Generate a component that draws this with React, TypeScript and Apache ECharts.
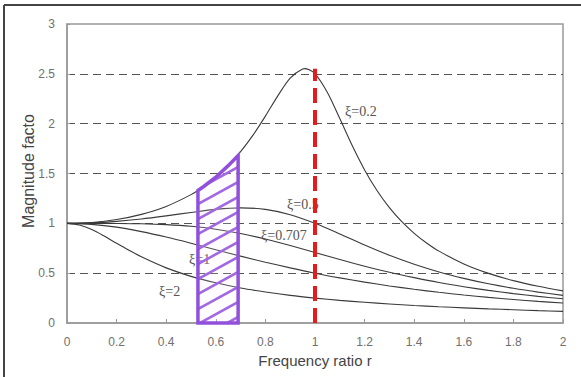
import React, { useEffect, useRef } from "react";
import * as echarts from "echarts";

// Frequency ratio grid shared by most curves
const rValues = [0, 0.1, 0.2, 0.3, 0.4, 0.5, 0.6, 0.7, 0.8, 0.9, 1.0, 1.1, 1.2, 1.3, 1.4, 1.5, 1.6, 1.7, 1.8, 1.9, 2.0];

// ξ = 0.2 curve (finer sampling around resonance)
const xi02R = [0, 0.1, 0.2, 0.3, 0.4, 0.5, 0.55, 0.6, 0.65, 0.7, 0.75, 0.8, 0.85, 0.9, 0.95, 0.96, 1.0, 1.05, 1.1, 1.15, 1.2, 1.25, 1.3, 1.35, 1.4, 1.45, 1.5, 1.6, 1.7, 1.8, 1.9, 2.0];
const xi02M = [1, 1.009, 1.038, 1.09, 1.17, 1.288, 1.367, 1.463, 1.579, 1.719, 1.885, 2.076, 2.279, 2.457, 2.549, 2.552, 2.5, 2.313, 2.051, 1.78, 1.536, 1.329, 1.157, 1.016, 0.9, 0.803, 0.721, 0.593, 0.498, 0.425, 0.368, 0.322];

const xi05M = [1, 1.005, 1.02, 1.044, 1.075, 1.109, 1.14, 1.155, 1.14, 1.087, 1, 0.893, 0.782, 0.679, 0.589, 0.512, 0.448, 0.393, 0.348, 0.31, 0.277];
const xi0707M = [1, 1.0, 0.999, 0.996, 0.987, 0.97, 0.941, 0.898, 0.842, 0.777, 0.707, 0.637, 0.57, 0.509, 0.455, 0.406, 0.364, 0.327, 0.295, 0.267, 0.243];
const xi1M = [1, 0.99, 0.962, 0.917, 0.862, 0.8, 0.735, 0.671, 0.61, 0.553, 0.5, 0.453, 0.41, 0.372, 0.338, 0.308, 0.281, 0.257, 0.236, 0.217, 0.2];

// ξ = 2 curve (finer sampling at low r)
const xi2R = [0, 0.05, 0.1, 0.15, 0.2, 0.25, 0.3, 0.4, 0.5, 0.6, 0.7, 0.8, 0.9, 1.0, 1.1, 1.2, 1.3, 1.4, 1.5, 1.6, 1.7, 1.8, 1.9, 2.0];
const xi2M = [1, 0.983, 0.937, 0.872, 0.8, 0.73, 0.664, 0.553, 0.468, 0.403, 0.351, 0.311, 0.277, 0.25, 0.227, 0.208, 0.191, 0.176, 0.163, 0.152, 0.142, 0.133, 0.124, 0.117];

// Hatched operating band (bounded above by the ξ=0.2 curve)
const hatchR = [0.528, 0.55, 0.6, 0.65, 0.69];
const hatchTop = [1.33, 1.367, 1.463, 1.579, 1.68];

// Resonance marker
const resonanceR = 1.0;
const resonanceTop = 2.55;

// Curve labels
const curveLabels = [
  { text: "ξ=0.2", x: 345, y: 111 },
  { text: "ξ=0.5", x: 287, y: 204 },
  { text: "ξ=0.707", x: 261, y: 235 },
  { text: "ξ=1", x: 189, y: 259 },
  { text: "ξ=2", x: 159, y: 291 },
];

const xTicks = { min: 0, max: 2, interval: 0.2 };
const yTicks = { min: 0, max: 3, interval: 0.5 };

const PURPLE = "#9150dc";

function pairs(xs: number[], ys: number[]) {
  return xs.map((x, i) => [x, ys[i]]);
}

export default function App() {
  const ref = useRef<HTMLDivElement>(null);
  useEffect(() => {
    if (!ref.current) return;
    const chart = echarts.init(ref.current, undefined, { renderer: "svg" });

    const curveStyle = { color: "#3a3a3a", width: 1.1 };
    const curve = (name: string, data: number[][]) => ({
      name,
      type: "line",
      data,
      smooth: 0.3,
      showSymbol: false,
      symbol: "none",
      lineStyle: curveStyle,
      z: 2,
      silent: true,
    });

    const option: any = {
      animation: false,
      backgroundColor: "#ffffff",
      grid: {
        left: 67,
        right: 18,
        top: 24,
        bottom: 54,
        show: true,
        borderColor: "#999999",
        borderWidth: 1.5,
      },
      xAxis: {
        type: "value",
        min: xTicks.min,
        max: xTicks.max,
        interval: xTicks.interval,
        name: "Frequency ratio r",
        nameLocation: "middle",
        nameGap: 28,
        nameTextStyle: { fontFamily: "Liberation Sans", fontSize: 15, color: "#444444" },
        axisLine: { show: true, lineStyle: { color: "#999999", width: 1.5 } },
        axisTick: { show: true, inside: true, length: 4, lineStyle: { color: "#999999" } },
        axisLabel: {
          margin: 13,
          fontFamily: "Liberation Sans",
          fontSize: 12,
          color: "#707070",
          formatter: (v: number) => String(Number(v.toFixed(1))),
        },
        splitLine: { show: false },
      },
      yAxis: {
        type: "value",
        min: yTicks.min,
        max: yTicks.max,
        interval: yTicks.interval,
        axisLine: { show: true, lineStyle: { color: "#999999", width: 1.5 } },
        axisTick: { show: true, inside: true, length: 3, lineStyle: { color: "#999999" } },
        axisLabel: {
          margin: 12,
          fontFamily: "Liberation Sans",
          fontSize: 12,
          color: "#707070",
          formatter: (v: number) => String(v),
        },
        splitLine: {
          show: true,
          showMinLine: false,
          showMaxLine: false,
          lineStyle: { color: "#555555", width: 1, type: [8, 5] },
        },
      },
      graphic: [
        {
          type: "line",
          shape: { x1: 4, y1: 5, x2: 581, y2: 5 },
          style: { stroke: "#444444", lineWidth: 2 },
          z: 1,
        },
        {
          type: "line",
          shape: { x1: 4, y1: 5, x2: 4, y2: 377 },
          style: { stroke: "#444444", lineWidth: 2 },
          z: 1,
        },
        {
          type: "text",
          x: 28,
          y: 171,
          rotation: Math.PI / 2,
          style: {
            text: "Magnitude facto",
            fill: "#444444",
            font: "16px 'Liberation Sans'",
            textAlign: "center",
            textVerticalAlign: "middle",
          },
          z: 1,
        },
        ...curveLabels.map((l) => ({
          type: "text",
          x: l.x,
          y: l.y,
          style: {
            text: l.text,
            fill: "#555555",
            font: "14px 'Liberation Serif'",
            textAlign: "left",
            textVerticalAlign: "middle",
          },
          z: 3,
        })),
      ],
      series: [
        curve("ξ=0.2", pairs(xi02R, xi02M)),
        curve("ξ=0.5", pairs(rValues, xi05M)),
        curve("ξ=0.707", pairs(rValues, xi0707M)),
        curve("ξ=1", pairs(rValues, xi1M)),
        curve("ξ=2", pairs(xi2R, xi2M)),
        {
          type: "custom",
          silent: true,
          z: 6,
          data: [[hatchR[0], 0]],
          renderItem: (_params: any, api: any) => {
            const bottomL = api.coord([hatchR[0], 0]);
            const bottomR = api.coord([hatchR[hatchR.length - 1], 0]);
            const tops = hatchR.map((r, i) => api.coord([r, hatchTop[i]]));
            const xL = bottomL[0];
            const xR = bottomR[0];
            const yB = bottomL[1];
            const topY = (x: number) => {
              for (let i = 0; i < tops.length - 1; i++) {
                const a = tops[i];
                const b = tops[i + 1];
                if (x >= a[0] && x <= b[0]) {
                  const t = (x - a[0]) / (b[0] - a[0] || 1);
                  return a[1] + t * (b[1] - a[1]);
                }
              }
              return x < tops[0][0] ? tops[0][1] : tops[tops.length - 1][1];
            };
            const slope = 0.55;
            const spacing = 15;
            const minTop = Math.min(...tops.map((p) => p[1]));
            const children: any[] = [];
            const cStart = yB + (xR - xL) * slope;
            for (let c = cStart - spacing * 0.4; c > minTop - 2; c -= spacing) {
              const N = 120;
              let run: number[][] = [];
              const flush = () => {
                if (run.length > 1) {
                  children.push({
                    type: "polyline",
                    shape: { points: run },
                    style: { stroke: PURPLE, lineWidth: 2.6, fill: "none" },
                  });
                }
                run = [];
              };
              for (let k = 0; k <= N; k++) {
                const x = xL + ((xR - xL) * k) / N;
                const y = c - slope * (x - xL);
                if (y <= yB && y >= topY(x)) run.push([x, y]);
                else flush();
              }
              flush();
            }
            const poly = [bottomL, ...tops, bottomR];
            children.push({
              type: "polygon",
              shape: { points: poly },
              style: { stroke: PURPLE, lineWidth: 3.5, fill: "rgba(255,240,255,0.15)", lineJoin: "miter" },
            });
            return { type: "group", children };
          },
        },
        {
          type: "line",
          data: [
            [resonanceR, 0],
            [resonanceR, resonanceTop],
          ],
          showSymbol: false,
          symbol: "none",
          silent: true,
          z: 10,
          lineStyle: { color: "#e51c1c", width: 4, type: [15, 7] },
        },
      ],
    };
    chart.setOption(option);
    return () => chart.dispose();
  }, []);
  return (
    <div
      ref={ref}
      style={{ position: "fixed", left: 0, top: 0, width: 581, height: 377, margin: 0 }}
    />
  );
}
